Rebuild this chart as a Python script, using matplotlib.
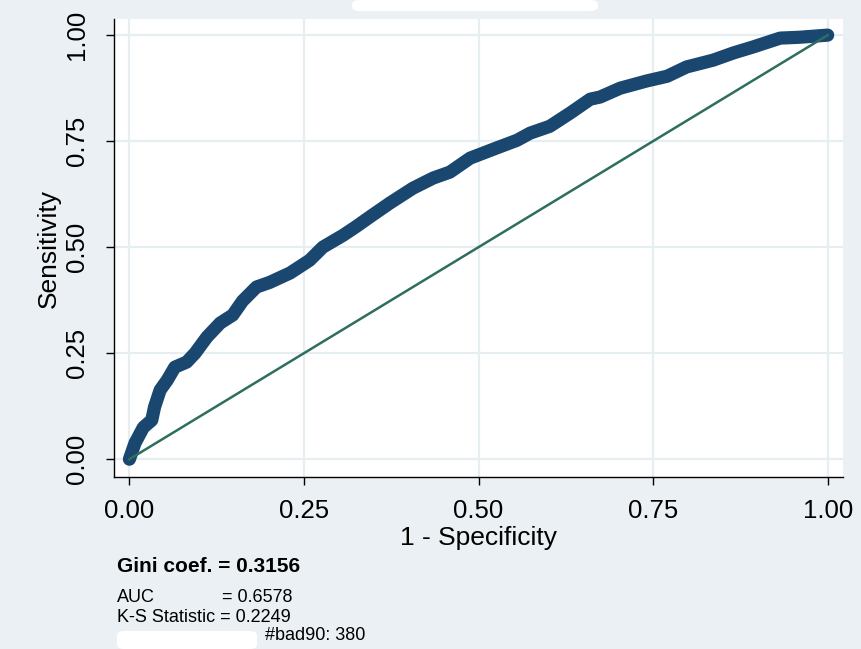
import matplotlib
matplotlib.use('Agg')
import matplotlib.pyplot as plt
from matplotlib.patches import FancyBboxPatch

plt.rcParams['font.family'] = ['Liberation Sans', 'DejaVu Sans']

# ROC curve
fpr = [0, 0.008, 0.02, 0.032, 0.036, 0.044, 0.054, 0.065, 0.082, 0.094, 0.111, 0.13,
       0.148, 0.162, 0.182, 0.201, 0.23, 0.258, 0.277, 0.306, 0.326, 0.344, 0.373,
       0.406, 0.435, 0.459, 0.488, 0.526, 0.555, 0.574, 0.602, 0.631, 0.66, 0.674,
       0.703, 0.741, 0.77, 0.798, 0.836, 0.865, 0.893, 0.932, 0.96, 1.0]
tpr = [0, 0.038, 0.075, 0.092, 0.123, 0.163, 0.186, 0.217, 0.229, 0.25, 0.288, 0.321,
       0.34, 0.373, 0.406, 0.417, 0.439, 0.469, 0.5, 0.528, 0.55, 0.571, 0.604,
       0.639, 0.663, 0.677, 0.71, 0.734, 0.752, 0.769, 0.785, 0.816, 0.849, 0.854,
       0.875, 0.892, 0.903, 0.925, 0.941, 0.958, 0.972, 0.993, 0.995, 1.0]
ref = [0, 1]
ticks = [0, 0.25, 0.5, 0.75, 1.0]
tick_labels = ['0.00', '0.25', '0.50', '0.75', '1.00']

gini = 0.3156
auc = 0.6578
ks = 0.2249
nbad = 380

bg = '#eaf0f3'
navy = '#1a476f'
green = '#2e6e5e'

fig = plt.figure(figsize=(8.62, 6.49), dpi=100, facecolor=bg)
ax = fig.add_axes([0.1323, 0.265, 0.8457, 0.7057])
ax.set_facecolor('white')

ax.plot(fpr, tpr, color=navy, lw=9.5, solid_capstyle='round', solid_joinstyle='round', zorder=3)
ax.plot(ref, ref, color=green, lw=1.8, zorder=4)

ax.set_xlim(-0.022, 1.022)
ax.set_ylim(-0.042, 1.038)
ax.set_xticks(ticks)
ax.set_xticklabels(tick_labels)
ax.set_yticks(ticks)
ax.set_yticklabels(tick_labels, rotation=90, va='center')
ax.tick_params(axis='both', labelsize=18.5, length=6, width=1, color='black')
ax.tick_params(axis='x', pad=10)
ax.tick_params(axis='y', pad=12)
ax.grid(True, color='#e6eef1', lw=1.6)
ax.set_axisbelow(True)
for s in ['top', 'right']:
    ax.spines[s].set_visible(False)
for s in ['left', 'bottom']:
    ax.spines[s].set_linewidth(1)
    ax.spines[s].set_color('black')

ax.set_xlabel('1 - Specificity', fontsize=19, labelpad=2)
ax.set_ylabel('Sensitivity', fontsize=19, labelpad=3)

fig.text(117 / 862, 1 - 567 / 649, 'Gini coef. = %.4f' % gini, fontsize=15,
         fontweight='bold', va='center', ha='left')
fig.text(117 / 862, 1 - 598 / 649, 'AUC', fontsize=13, va='center', ha='left')
fig.text(222 / 862, 1 - 598 / 649, '= %.4f' % auc, fontsize=13, va='center', ha='left')
fig.text(117 / 862, 1 - 617 / 649, 'K-S Statistic = %.4f' % ks, fontsize=13, va='center', ha='left')
fig.text(265 / 862, 1 - 636 / 649, '#bad90: %d' % nbad, fontsize=13, va='center', ha='left')

# white blanked-out areas of the original
for x0, y0, w, h in [(352, 0, 246, 11), (117, 631, 140, 18)]:
    fig.patches.append(FancyBboxPatch((x0 / 862, 1 - (y0 + h) / 649), w / 862, h / 649,
                                      boxstyle='round,pad=0,rounding_size=0.008',
                                      transform=fig.transFigure, fc='white', ec='none'))

fig.savefig('out.png', dpi=100, facecolor=bg)
